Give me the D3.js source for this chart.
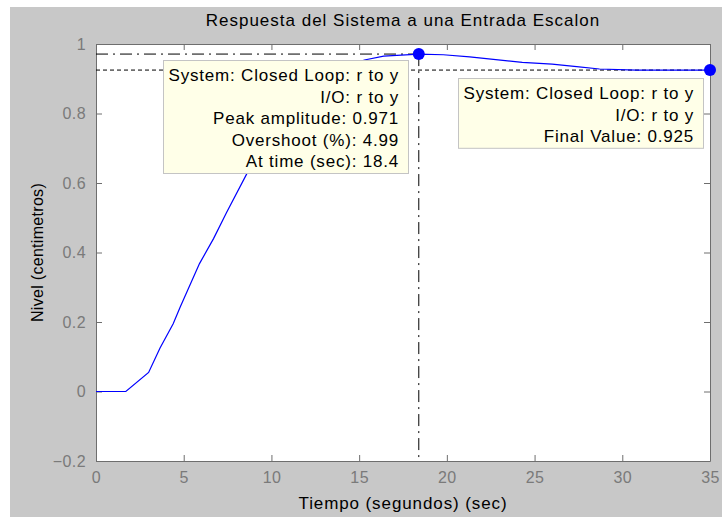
<!DOCTYPE html>
<html><head><meta charset="utf-8">
<script src="https://cdn.jsdelivr.net/npm/d3@7"></script>
<style>html,body{margin:0;padding:0;background:#fff;}svg{display:block;}</style>
</head><body>
<script>
// ---- data ----
const timeValues = [0, 1.7, 3.0, 3.65, 4.4, 4.8, 5.9, 6.7, 7.45, 8.6, 10, 11, 12, 13, 14, 15.3, 16.4, 18.4, 19.8, 21.3, 24.3, 26, 27.4, 28.7, 30.8, 35];
const levelValues = [0, 0, 0.055, 0.125, 0.195, 0.243, 0.368, 0.44, 0.516, 0.627, 0.74, 0.81, 0.86, 0.90, 0.93, 0.954, 0.965, 0.971, 0.969, 0.963, 0.947, 0.942, 0.935, 0.928, 0.925, 0.925];
const xTicks = [0, 5, 10, 15, 20, 25, 30, 35];
const yTicks = [-0.2, 0, 0.2, 0.4, 0.6, 0.8, 1];
const peakTime = 18.4, peakAmp = 0.971, finalValue = 0.925, endTime = 35;
const peakLines = ["System: Closed Loop: r to y", "I/O: r to y", "Peak amplitude: 0.971", "Overshoot (%): 4.99", "At time (sec): 18.4"];
const finalLines = ["System: Closed Loop: r to y", "I/O: r to y", "Final Value: 0.925"];
const titleText = "Respuesta del Sistema a una Entrada Escalon";
const xLabel = "Tiempo (segundos) (sec)";
const yLabel = "Nivel (centimetros)";

// ---- layout ----
const W = 722, H = 517;
const m = {left: 96, right: 12, top: 44, bottom: 56};
const font = "'Liberation Sans', Arial, sans-serif";
const svg = d3.select("body").append("svg").attr("width", W).attr("height", H);
svg.append("rect").attr("x", 10).attr("y", 7).attr("width", W - 10).attr("height", H - 7).attr("fill", "#c8c8c8");

const x = d3.scaleLinear().domain([0, 35]).range([m.left, W - m.right]);
const y = d3.scaleLinear().domain([-0.2, 1]).range([H - m.bottom, m.top]);
const x0 = x.range()[0], x1 = x.range()[1], y0 = y.range()[0], y1 = y.range()[1];

svg.append("rect").attr("x", x0).attr("y", y1).attr("width", x1 - x0).attr("height", y0 - y1).attr("fill", "#fff");

const axisColor = "#6e6e6e", labelColor = "#7a7a7a";
const tl = 6;
const gx = svg.append("g").attr("transform", `translate(0,${y0})`)
  .call(d3.axisBottom(x).tickValues(xTicks).tickSizeInner(-tl).tickSizeOuter(0).tickPadding(11).tickFormat(d3.format("d")));
const gxTop = svg.append("g").attr("transform", `translate(0,${y1})`)
  .call(d3.axisTop(x).tickValues(xTicks).tickSizeInner(-tl).tickSizeOuter(0).tickFormat(""));
const gy = svg.append("g").attr("transform", `translate(${x0},0)`)
  .call(d3.axisLeft(y).tickValues(yTicks).tickSizeInner(-tl).tickSizeOuter(0).tickPadding(10).tickFormat(d => d === 0 ? "0" : (d === 1 ? "1" : d3.format(".1f")(d))));
const gyR = svg.append("g").attr("transform", `translate(${x1},0)`)
  .call(d3.axisRight(y).tickValues(yTicks).tickSizeInner(-tl).tickSizeOuter(0).tickFormat(""));
[gx, gxTop, gy, gyR].forEach(g => {
  g.selectAll("path").attr("stroke", axisColor);
  g.selectAll("line").attr("stroke", axisColor);
  g.selectAll("text").attr("fill", labelColor).style("font-family", font).style("font-size", "16px").style("letter-spacing", "0.4px");
});

// reference lines
svg.append("line").attr("x1", x0).attr("x2", x(peakTime)).attr("y1", y(peakAmp)).attr("y2", y(peakAmp))
  .attr("stroke", "#000").attr("stroke-dasharray", "12,5,2,5");
svg.append("line").attr("x1", x(peakTime)).attr("x2", x(peakTime)).attr("y1", y(peakAmp)).attr("y2", y0)
  .attr("stroke", "#000").attr("stroke-dasharray", "12,5,2,5");
svg.append("line").attr("x1", x0).attr("x2", x(endTime)).attr("y1", y(finalValue)).attr("y2", y(finalValue))
  .attr("stroke", "#000").attr("stroke-dasharray", "4,3");

// response curve
const pts = timeValues.map((t, i) => [t, levelValues[i]]);
svg.append("path").datum(pts)
  .attr("d", d3.line().x(d => x(d[0])).y(d => y(d[1])))
  .attr("fill", "none").attr("stroke", "#0000ff").attr("stroke-width", 1.2);

// markers
svg.append("circle").attr("cx", x(peakTime)).attr("cy", y(peakAmp)).attr("r", 6).attr("fill", "#0000ff");
svg.append("circle").attr("cx", x(endTime)).attr("cy", y(finalValue)).attr("r", 6).attr("fill", "#0000ff");

// annotation boxes
function box(lines, bx, by, bw, lh) {
  const g = svg.append("g");
  g.append("rect").attr("x", bx + 0.5).attr("y", by + 0.5).attr("width", bw).attr("height", lines.length * lh + 5)
    .attr("fill", "#ffffe8").attr("stroke", "#c4c4c4");
  g.selectAll("text").data(lines).join("text")
    .attr("x", bx + bw - 9).attr("y", (d, i) => by + 21 + i * lh)
    .attr("text-anchor", "end").attr("fill", "#000")
    .style("font-family", font).style("font-size", "17px").style("letter-spacing", "0.8px").text(d => d);
}
box(peakLines, 163, 60, 245, 21.6);
box(finalLines, 458, 78, 245, 21.6);

// titles
svg.append("text").attr("x", (x0 + x1) / 2).attr("y", 26).attr("text-anchor", "middle")
  .style("font-family", font).style("font-size", "17px").style("letter-spacing", "1px").text(titleText);
svg.append("text").attr("x", (x0 + x1) / 2).attr("y", 509).attr("text-anchor", "middle")
  .style("font-family", font).style("font-size", "17px").style("letter-spacing", "0.9px").text(xLabel);
svg.append("text").attr("transform", `translate(43,${(y0 + y1) / 2}) rotate(-90)`).attr("text-anchor", "middle")
  .style("font-family", font).style("font-size", "16px").style("letter-spacing", "0.3px").text(yLabel);
</script>
</body></html>
